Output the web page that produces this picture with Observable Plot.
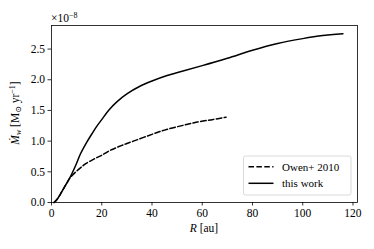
<!DOCTYPE html>
<html>
<head>
<meta charset="utf-8">
<script src="https://cdn.jsdelivr.net/npm/d3@7"></script>
<script src="https://cdn.jsdelivr.net/npm/@observablehq/plot@0.6"></script>
<style>
  html, body { margin: 0; padding: 0; background: white; }
  #chart svg, #chart svg text, #chart svg tspan { font-family: "Liberation Serif", "DejaVu Serif", serif !important; }
  #chart svg g[aria-label$="tick label"] text { font-size: 11.5px !important; fill: black; }
</style>
</head>
<body>
<div id="chart"></div>
<script>
// Data (mass-loss rate in units of 1e-8 Msun/yr vs radius in au)
const seriesNames = ["Owen+ 2010", "this work"];
const R_owen = [1, 2, 3, 4, 5, 6, 7, 8.2, 10, 12, 13.5, 17, 20, 23.4, 28, 32.6, 40, 45.8, 52.7, 58, 64, 69.5];
const M_owen = [0, 0.04, 0.1, 0.17, 0.24, 0.31, 0.38, 0.44, 0.51, 0.58, 0.63, 0.71, 0.77, 0.85, 0.93, 1.0, 1.11, 1.19, 1.26, 1.31, 1.35, 1.39];
const R_this = [1, 2, 3, 4, 5, 6, 7, 8, 10, 11.5, 14, 16.1, 18, 20, 22.7, 26, 30, 35, 40, 46, 52, 60, 70, 80, 90, 100, 108, 116];
const M_this = [0, 0.04, 0.1, 0.17, 0.24, 0.31, 0.38, 0.46, 0.64, 0.79, 0.98, 1.12, 1.24, 1.35, 1.5, 1.64, 1.77, 1.89, 1.98, 2.07, 2.14, 2.23, 2.35, 2.48, 2.59, 2.67, 2.72, 2.75];
const xTicks = [0, 20, 40, 60, 80, 100, 120];
const yTicks = [0, 0.5, 1.0, 1.5, 2.0, 2.5];

const owen = R_owen.map((r, i) => ({R: r, M: M_owen[i]}));
const mine = R_this.map((r, i) => ({R: r, M: M_this[i]}));

const font = "Liberation Serif, DejaVu Serif, serif";

const svg = Plot.plot({
  width: 374,
  height: 249,
  marginLeft: 51,
  marginTop: 25,
  marginRight: 17,
  marginBottom: 47,
  style: {fontFamily: font, fontSize: "11px", color: "black", background: "white"},
  x: {domain: [0, 121.8], label: null},
  y: {domain: [0, 2.884], label: null},
  marks: [
    Plot.line(owen, {x: "R", y: "M", stroke: "black", strokeWidth: 1.5, strokeDasharray: "5.5,2.4", curve: "catmull-rom"}),
    Plot.line(mine, {x: "R", y: "M", stroke: "black", strokeWidth: 1.5, curve: "catmull-rom"}),
    Plot.axisX({ticks: xTicks, tickSize: 3.5, tickPadding: 2.5, tickFormat: d => String(d), label: null}),
    Plot.axisY({ticks: yTicks, tickSize: 3.5, tickPadding: 3, tickFormat: d => d.toFixed(1), label: null}),
    Plot.frame({stroke: "black", strokeWidth: 0.8})
  ]
});

document.getElementById("chart").appendChild(svg);

const s = d3.select(svg);
s.attr("font-family", font).attr("font-size", 11);
s.selectAll("g[aria-label$='tick']").attr("stroke", "black").attr("stroke-width", 0.8);

// y-axis label: Ṁ_w [M⊙ yr^-1]
const yl = s.append("text")
  .attr("transform", "translate(19,113) rotate(-90)")
  .attr("text-anchor", "middle")
  .attr("font-family", font)
  .attr("font-size", 11.5)
  .attr("fill", "black");
yl.append("tspan").attr("font-style", "italic").text("M\u0307");
yl.append("tspan").attr("font-style", "italic").attr("font-size", 8).attr("dy", 2).text("w");
yl.append("tspan").attr("dy", -2).text(" [M");
yl.append("tspan").attr("font-size", 8).attr("dy", 2).text("\u2299");
yl.append("tspan").attr("dy", -2).text(" yr");
yl.append("tspan").attr("font-size", 8).attr("dy", -4).text("\u22121");
yl.append("tspan").attr("dy", 4).text("]");

// x-axis label: R [au]
const xl = s.append("text")
  .attr("x", 204).attr("y", 232)
  .attr("text-anchor", "middle")
  .attr("font-family", font)
  .attr("font-size", 11.5)
  .attr("fill", "black");
xl.append("tspan").attr("font-style", "italic").text("R");
xl.append("tspan").text(" [au]");

// offset text ×10^-8
const ot = s.append("text")
  .attr("x", 51).attr("y", 22)
  .attr("text-anchor", "start")
  .attr("font-family", font)
  .attr("font-size", 11.5)
  .attr("fill", "black");
ot.append("tspan").text("\u00d710");
ot.append("tspan").attr("font-size", 8).attr("dy", -4).text("\u22128");

// legend
const lg = s.append("g");
lg.append("rect")
  .attr("x", 243.5).attr("y", 156).attr("width", 107.5).attr("height", 39)
  .attr("rx", 2).attr("fill", "white").attr("fill-opacity", 0.8)
  .attr("stroke", "#d0d0d0").attr("stroke-width", 0.8);
const dashes = ["5.5,2.4", null];
seriesNames.forEach((name, i) => {
  const y = 166.7 + i * 16.6;
  const ln = lg.append("line")
    .attr("x1", 248.5).attr("x2", 273.5).attr("y1", y).attr("y2", y)
    .attr("stroke", "black").attr("stroke-width", 1.5);
  if (dashes[i]) ln.attr("stroke-dasharray", dashes[i]);
  lg.append("text")
    .attr("x", 282).attr("y", y + 3.8)
    .attr("text-anchor", "start")
    .attr("font-family", font).attr("font-size", 11).attr("fill", "black")
    .text(name);
});
</script>
</body>
</html>
